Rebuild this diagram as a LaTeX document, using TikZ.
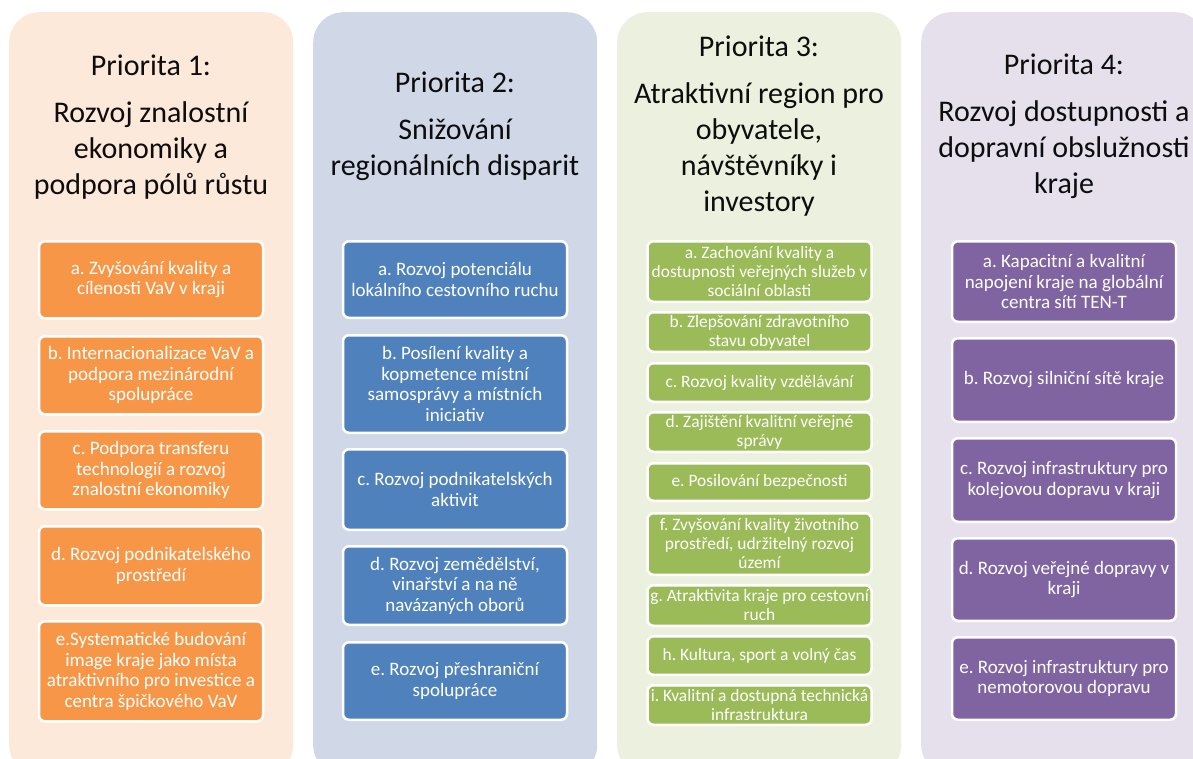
\documentclass[tikz,border=0pt]{standalone}
\usepackage{fontspec}
\setmainfont{Carlito}
\usetikzlibrary{positioning}
\frenchspacing

\definecolor{peach}{HTML}{FCE9DA}
\definecolor{slate}{HTML}{D0D8E8}
\definecolor{sage}{HTML}{EBF1DE}
\definecolor{lilac}{HTML}{E5E0EC}
\definecolor{orangebox}{HTML}{F79646}
\definecolor{bluebox}{HTML}{4F81BD}
\definecolor{greenbox}{HTML}{9BBB59}
\definecolor{purplebox}{HTML}{8064A2}

\tikzset{
  panel/.style={rounded corners=30pt, minimum width=284pt, minimum height=763pt,
    inner sep=0pt, anchor=north west},
  title/.style={align=center, text=black!95,
    font=\fontsize{30}{36}\selectfont},
  item/.style={draw=white, line width=2.5pt, rounded corners=6pt, text=white,
    align=center, minimum width=224pt, inner xsep=1pt, inner ysep=1pt,
    font=\fontsize{19}{20.5}\selectfont},
  item1/.style={item, fill=orangebox},
  item2/.style={item, fill=bluebox},
  item3/.style={item, fill=greenbox, font=\fontsize{17.4}{19}\selectfont},
  item4/.style={item, fill=purplebox}
}

\begin{document}
\begin{tikzpicture}[x=1pt, y=-1pt]
  \useasboundingbox (0,0) rectangle (1193,758);
  \clip (0,0) rectangle (1193,758);

  \node[panel, fill=peach] (p1) at (9,12) {};
  \node[panel, fill=slate] (p2) at (313,12) {};
  \node[panel, fill=sage] (p3) at (617,12) {};
  \node[panel, fill=lilac] (p4) at (921,12) {};

  \node[title] (t1) at (151,127) {Priorita 1:\\[11pt]Rozvoj znalostní\\ekonomiky a\\podpora pólů růstu};
  \node[title] (t2) at (455,126) {Priorita 2:\\[11pt]Snižování\\regionálních disparit};
  \node[title] (t3) at (759,126) {Priorita 3:\\[11pt]Atraktivní region pro\\obyvatele,\\návštěvníky i\\investory};
  \node[title] (t4) at (1064,126) {Priorita 4:\\[11pt]Rozvoj dostupnosti a\\dopravní obslužnosti\\kraje};

  \node[item1, minimum height=77pt, anchor=north] (a1) at (151,240) {a. Zvyšování kvality a\\cílenosti VaV v kraji};
  \node[item1, minimum height=78pt, below=15.5pt of a1] (b1) {b. Internacionalizace VaV a\\podpora mezinárodní\\spolupráce};
  \node[item1, minimum height=78pt, below=14.5pt of b1] (c1) {c. Podpora transferu\\technologií a rozvoj\\znalostní ekonomiky};
  \node[item1, minimum height=79pt, below=14.5pt of c1] (d1) {d. Rozvoj podnikatelského\\prostředí};
  \node[item1, minimum height=100pt, below=13.5pt of d1] (e1) {e.Systematické budování\\image kraje jako místa\\atraktivního pro investice a\\centra špičkového VaV};

  \node[item2, minimum height=76.5pt, anchor=north] (a2) at (455,240) {a. Rozvoj potenciálu\\lokálního cestovního ruchu};
  \node[item2, minimum height=97.5pt, below=15pt of a2] (b2) {b. Posílení kvality a\\kopmetence místní\\samosprávy a místních\\iniciativ};
  \node[item2, minimum height=80.5pt, below=14pt of b2] (c2) {c. Rozvoj podnikatelských\\aktivit};
  \node[item2, minimum height=78.5pt, below=14pt of c2] (d2) {d. Rozvoj zemědělství,\\vinařství a na ně\\navázaných oborů};
  \node[item2, minimum height=77.5pt, below=15pt of d2] (e2) {e. Rozvoj přeshraniční\\spolupráce};

  \node[item3, minimum height=60.5pt, anchor=north] (a3) at (759.5,240) {a. Zachování kvality a\\dostupnosti veřejných služeb v\\sociální oblasti};
  \node[item3, minimum height=39.5pt, below=8pt of a3] (b3) {b. Zlepšování zdravotního\\stavu obyvatel};
  \node[item3, minimum height=38.5pt, below=9pt of b3] (c3) {c. Rozvoj kvality vzdělávání};
  \node[item3, minimum height=39.5pt, below=8pt of c3] (d3) {d. Zajištění kvalitní veřejné\\správy};
  \node[item3, minimum height=37.5pt, below=9pt of d3] (e3) {e. Posilování bezpečnosti};
  \node[item3, minimum height=61.5pt, below=10pt of e3] (f3) {f. Zvyšování kvality životního\\prostředí, udržitelný rozvoj\\území};
  \node[item3, minimum height=40.5pt, below=8pt of f3] (g3) {g. Atraktivita kraje pro cestovní\\ruch};
  \node[item3, minimum height=38.5pt, below=8pt of g3] (h3) {h. Kultura, sport a volný čas};
  \node[item3, minimum height=39.5pt, below=8pt of h3] (i3) {i. Kvalitní a dostupná technická\\infrastruktura};

  \node[item4, minimum height=80.5pt, anchor=north] (a4) at (1064,240) {a. Kapacitní a kvalitní\\napojení kraje na globální\\centra sítí TEN-T};
  \node[item4, minimum height=83.5pt, below=14pt of a4] (b4) {b. Rozvoj silniční sítě kraje};
  \node[item4, minimum height=83.5pt, below=14pt of b4] (c4) {c. Rozvoj infrastruktury pro\\kolejovou dopravu v kraji};
  \node[item4, minimum height=82.5pt, below=14pt of c4] (d4) {d. Rozvoj veřejné dopravy v\\kraji};
  \node[item4, minimum height=82.5pt, below=14pt of d4] (e4) {e. Rozvoj infrastruktury pro\\nemotorovou dopravu};
\end{tikzpicture}
\end{document}
